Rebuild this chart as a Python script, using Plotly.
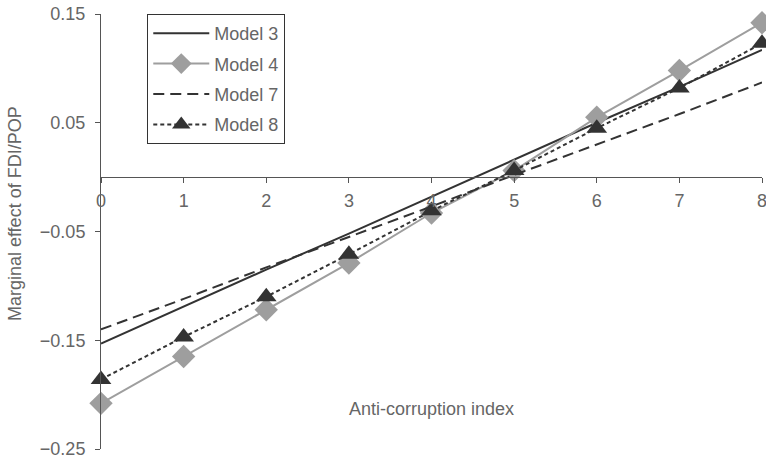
import plotly.graph_objects as go

x_vals = [0, 1, 2, 3, 4, 5, 6, 7, 8]
model3 = [-0.153, -0.119, -0.085, -0.052, -0.018, 0.016, 0.050, 0.083, 0.117]
model4 = [-0.208, -0.165, -0.122, -0.079, -0.033, 0.006, 0.055, 0.098, 0.142]
model7 = [-0.140, -0.112, -0.083, -0.055, -0.027, 0.002, 0.030, 0.058, 0.087]
model8 = [-0.186, -0.147, -0.110, -0.071, -0.031, 0.006, 0.045, 0.082, 0.123]
y_ticks = [-0.25, -0.15, -0.05, 0.05, 0.15]
y_ticktext = ["\u22120.25", "\u22120.15", "\u22120.05", "0.05", "0.15"]
x_ticks = [0, 1, 2, 3, 4, 5, 6, 7, 8]

dark = "#333333"
grey = "#9e9e9e"
axis_col = "#555555"
text_col = "#666666"
FONT = "Liberation Sans, Arial, sans-serif"

fig = go.Figure()
fig.add_trace(go.Scatter(x=x_vals, y=model3, mode="lines", name="Model 3", legendgroup="a",
                         line=dict(color=dark, width=2), cliponaxis=False))
fig.add_trace(go.Scatter(x=x_vals, y=model4, mode="lines+markers", name="Model 4", legendgroup="b",
                         line=dict(color=grey, width=2), cliponaxis=False,
                         marker=dict(symbol="diamond", size=18, color=grey)))
fig.add_trace(go.Scatter(x=x_vals, y=model7, mode="lines", name="Model 7", legendgroup="c",
                         line=dict(color=dark, width=2, dash="11px,6px"), cliponaxis=False))
fig.add_trace(go.Scatter(x=x_vals, y=model8, mode="lines+markers", name="Model 8", legendgroup="d",
                         line=dict(color=dark, width=2, dash="4px,3px"), cliponaxis=False,
                         marker=dict(symbol="triangle-up", size=18, color=dark)))

fig.update_layout(
    width=766, height=459,
    margin=dict(l=101, r=4, t=14, b=10),
    paper_bgcolor="white", plot_bgcolor="white",
    font=dict(family=FONT, size=18, color=text_col),
    showlegend=True,
    legend=dict(x=0.07, y=1.0, xanchor="left", yanchor="top",
                bordercolor=dark, borderwidth=1, bgcolor="white",
                font=dict(family=FONT, size=18, color=text_col),
                itemwidth=56, tracegroupgap=4),
    xaxis=dict(range=[0, 8], tickvals=x_ticks, ticks="outside", ticklen=5,
               tickcolor=axis_col, showline=True, linecolor=axis_col, linewidth=1,
               showgrid=False, zeroline=False, anchor="free", position=0.625,
               ticklabeloverflow="allow", ticklabelstandoff=2,
               tickfont=dict(family=FONT, size=18, color=text_col), automargin=False),
    yaxis=dict(range=[-0.25, 0.15], tickvals=y_ticks, ticktext=y_ticktext,
               ticks="outside", ticklen=5, tickcolor=axis_col, showline=True,
               linecolor=axis_col, linewidth=1, showgrid=False, zeroline=False,
               ticklabeloverflow="allow", ticklabelstandoff=6,
               tickfont=dict(family=FONT, size=18, color=text_col), automargin=False),
    annotations=[
        dict(text="Anti-corruption index", x=4, y=-0.2136, xref="x", yref="y",
             showarrow=False, font=dict(family=FONT, size=18, color=text_col)),
        dict(text="Marginal effect of FDI/POP", x=-86 / 661, y=0.54, xref="paper", yref="paper",
             textangle=-90, showarrow=False, xanchor="center", yanchor="middle",
             font=dict(family=FONT, size=18, color=text_col)),
    ],
)

fig.write_html("out.html")
